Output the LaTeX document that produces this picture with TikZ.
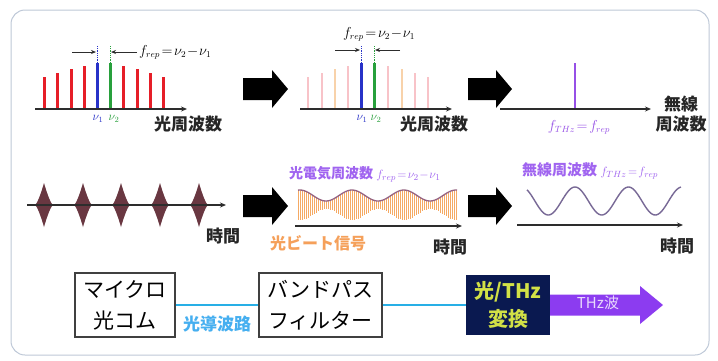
\documentclass[tikz,border=0pt]{standalone}
\usepackage{fontspec}
\newfontfamily\jp{Noto Sans CJK JP}
\usetikzlibrary{arrows.meta,calc}
\definecolor{cred}{RGB}{230,30,40}
\definecolor{cblue}{RGB}{40,50,200}
\definecolor{cgreen}{RGB}{40,160,60}
\definecolor{cpink}{RGB}{248,195,200}
\definecolor{corg}{RGB}{248,210,170}
\definecolor{cpur}{RGB}{150,80,230}
\definecolor{clpur}{RGB}{160,100,240}
\definecolor{cbeat}{RGB}{245,170,100}
\definecolor{cenv}{RGB}{150,100,130}
\definecolor{cwave}{RGB}{120,105,150}
\definecolor{cpulse}{RGB}{105,55,65}
\definecolor{ccyan}{RGB}{40,175,230}
\definecolor{clcyan}{RGB}{70,175,240}
\definecolor{cnavy}{RGB}{10,25,80}
\definecolor{cyel}{RGB}{210,225,70}
\definecolor{cthz}{RGB}{140,60,240}
\definecolor{cframe}{RGB}{190,200,215}
\definecolor{cax}{RGB}{45,45,45}
\definecolor{cbeatlab}{RGB}{245,160,90}
\begin{document}
\begin{tikzpicture}[x=1pt,y=-1pt,
  lab/.style={font=\jp\bfseries\fontsize{17}{17}\selectfont, text=black!85, inner sep=0pt},
  mth/.style={font=\fontsize{13.5}{13.5}\selectfont, inner sep=0pt},
  nu/.style={font=\fontsize{12}{12}\selectfont, inner sep=0pt},
  plab/.style={font=\jp\bfseries\fontsize{15}{15}\selectfont, text=clpur, inner sep=0pt},
  ax/.style={line width=1.4pt, draw=cax, -{Stealth[length=6pt,width=5pt]}},
  sm/.style={line width=1pt, draw=cax, -{Stealth[length=5pt,width=4pt]}},
  dots/.style={densely dotted, line width=0.8pt},
  box/.style={draw=black!75, line width=1.6pt, fill=white, minimum height=64pt, align=center,
     inner sep=0pt, font=\jp\fontsize{21}{31}\selectfont},
  conv/.style={fill=cnavy, minimum width=84pt, minimum height=60pt, align=center, inner sep=0pt,
     text=cyel, font=\jp\bfseries\fontsize{20}{28}\selectfont},
  wg/.style={draw=ccyan, line width=2.4pt},
]
\useasboundingbox (0,0) rectangle (718,360);
\draw[rounded corners=14pt, draw=cframe, line width=1pt, fill=white] (11,10) rectangle (709,355);

% ---------- panel 1: comb ----------
\foreach \x/\t/\c in {44/77/cred,57/73/cred,71/69/cred,84/66/cred,97/63/cblue,110/63/cgreen,123/66/cred,137/69/cred,150/73/cred,163/77/cred}
  \draw[\c, line width=3pt] (\x,109) -- (\x,\t);
\draw[cblue, dots] (97,63) -- (97,46);
\draw[cgreen, dots] (110,63) -- (110,46);
\coordinate (a1s) at (35,109); \coordinate (a1e) at (187,109);
\draw[ax] (a1s) -- (a1e);
\coordinate (p1a) at (72,52); \coordinate (p1b) at (96,52);
\coordinate (p1c) at (137,52); \coordinate (p1d) at (111,52);
\draw[sm] (p1a) -- (p1b);
\draw[sm] (p1c) -- (p1d);
\node[mth, anchor=west] (f1) at (139,52) {$f_{rep}\!=\!\nu_2\!-\!\nu_1$};
\node[nu, text=cblue] (n11) at (98,119) {$\nu_1$};
\node[nu, text=cgreen] (n12) at (114,119) {$\nu_2$};
\node[lab] (of1) at (188,124) {光周波数};

% arrows
\foreach \ax/\ay/\w in {243/89/45, 468/89/44, 243/206/45, 468/206/44}
  \fill[black, shift={(\ax,\ay)}] (0,-11) -- (\w-16,-11) -- (\w-16,-19) -- (\w,0) -- (\w-16,19) -- (\w-16,11) -- (0,11) -- cycle;

% ---------- panel 2: filtered comb ----------
\foreach \x/\t/\c in {308/77/cpink,322/73/cpink,335/69/corg,348/66/cpink,388/66/cpink,402/69/corg,415/73/cpink,428/77/cpink}
  \draw[\c, line width=2.2pt] (\x,109) -- (\x,\t);
\draw[cblue, line width=3pt] (361,109) -- (361,63);
\draw[cgreen, line width=3pt] (374,109) -- (374,63);
\draw[cblue, dots] (361,63) -- (361,46);
\draw[cgreen, dots] (374,63) -- (374,46);
\coordinate (a2s) at (300,109); \coordinate (a2e) at (452,109);
\draw[ax] (a2s) -- (a2e);
\coordinate (p2a) at (335,50); \coordinate (p2b) at (360,50);
\coordinate (p2c) at (400,50); \coordinate (p2d) at (375,50);
\draw[sm] (p2a) -- (p2b);
\draw[sm] (p2c) -- (p2d);
\node[mth] (f2) at (379,34) {$f_{rep}\!=\!\nu_2\!-\!\nu_1$};
\node[nu, text=cblue] (n21) at (362,119) {$\nu_1$};
\node[nu, text=cgreen] (n22) at (376,119) {$\nu_2$};
\node[lab] (of2) at (434,124) {光周波数};

% ---------- panel 3: THz spectrum ----------
\draw[cpur, line width=2.6pt] (575,109) -- (575,63);
\coordinate (a3s) at (500,109); \coordinate (a3e) at (651,109);
\draw[ax] (a3s) -- (a3e);
\node[mth, text=cpur] (f3) at (579,127) {$f_{THz}\!=\!f_{rep}$};
\node[lab] (rf1) at (681,104) {無線};
\node[lab] (rf2) at (681,124) {周波数};

% ---------- row 2 panel 1: pulses ----------
\foreach \c in {44,83,121,160,199}
  \fill[cpulse] plot[domain=-9:9,samples=37] ({\c+\x},{205-22*(1-abs(\x)/9)^1.4})
     -- plot[domain=9:-9,samples=37] ({\c+\x},{205+22*(1-abs(\x)/9)^1.4}) -- cycle;
\coordinate (b1s) at (27,205); \coordinate (b1e) at (226,205);
\draw[ax] (b1s) -- (b1e);
\node[lab] (t1) at (223,236) {時間};

% ---------- row 2 panel 2: beat ----------
\foreach \x in {298,300,...,456} {
  \pgfmathsetmacro\A{9.5+5.5*cos(6.9231*(\x-300))}
  \draw[cbeat, line width=1pt] (\x,{205-\A}) -- (\x,{205+\A});
}
\draw[cenv, line width=1.3pt] plot[domain=298:457,samples=80,smooth] (\x,{205-9.5-5.5*cos(6.9231*(\x-300))});
\coordinate (b2s) at (295,226); \coordinate (b2e) at (462,226);
\draw[ax] (b2s) -- (b2e);
\node[plab, anchor=west, font=\jp\bfseries\fontsize{14}{14}\selectfont] (l2) at (289,174) {光電気周波数 \fontsize{13}{13}\selectfont$f_{rep}\!=\!\nu_2\!-\!\nu_1$};
\node[lab, text=cbeatlab, font=\jp\bfseries\fontsize{16}{16}\selectfont] (bl) at (318,243) {光ビート信号};
\node[lab] (t2) at (450,247) {時間};

% ---------- row 2 panel 3: sine ----------
\draw[cwave, line width=1.4pt] plot[domain=527:681,samples=120,smooth] (\x,{201-14*cos(6.7290*(\x-521.5))});
\coordinate (b3s) at (517,225); \coordinate (b3e) at (683,225);
\draw[ax] (b3s) -- (b3e);
\node[plab, anchor=west] (l3) at (522,171) {無線周波数 \fontsize{13}{13}\selectfont$f_{THz}\!=\!f_{rep}$};
\node[lab] (t3) at (677,246) {時間};

% ---------- row 3: blocks ----------
\node[box, minimum width=100pt] (mc) at (125,305) {マイクロ\\光コム};
\node[box, minimum width=123pt] (bp) at (320.5,305) {バンドパス\\フィルター};
\node[conv] (cv) at (508,305) {光/THz\\変換};
\draw[wg] (mc.east) -- (bp.west);
\draw[wg] (bp.east) -- (cv.west);
\node[lab, text=clcyan] (wgl) at (217,324) {光導波路};
\fill[cthz] ($(cv.east)+(0,-10.5)$) -- (640,294.5) -- (640,286) -- (663,305) -- (640,324) -- (640,315.5) -- ($(cv.east)+(0,10.5)$) -- cycle;
\node[lab, text=white!80!cthz, font=\jp\fontsize{15}{15}\selectfont] (thz) at (598,303) {THz波};
\end{tikzpicture}
\end{document}
